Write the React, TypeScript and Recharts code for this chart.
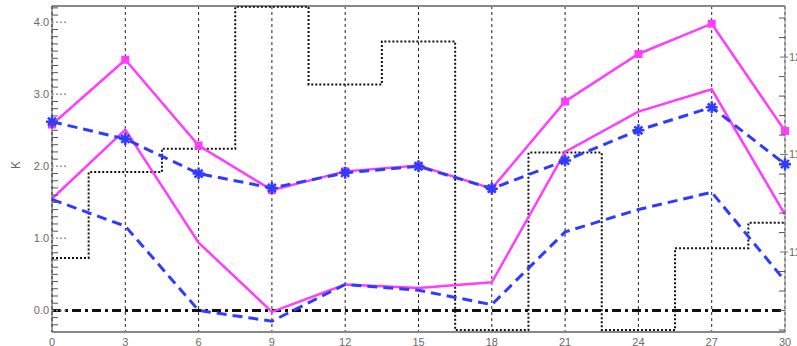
import React from 'react';
import { LineChart, Line, XAxis, YAxis, CartesianGrid, ReferenceLine } from 'recharts';

const xValues = [0, 3, 6, 9, 12, 15, 18, 21, 24, 27, 30];
const magentaUpper = [2.58, 3.48, 2.29, 1.67, 1.93, 2.01, 1.69, 2.9, 3.56, 3.98, 2.49];
const blueUpper = [2.62, 2.38, 1.9, 1.7, 1.91, 2.0, 1.69, 2.08, 2.5, 2.82, 2.03];
const magentaLower = [1.55, 2.51, 0.94, -0.02, 0.36, 0.31, 0.39, 2.2, 2.76, 3.07, 1.33];
const blueLower = [1.54, 1.17, 0.0, -0.15, 0.36, 0.28, 0.08, 1.09, 1.4, 1.64, 0.41];
const stepValues = [10.97, 11.41, 11.53, 12.258, 11.86, 12.08, 10.6, 11.51, 10.6, 11.02, 11.15];

const xTicks = [0, 3, 6, 9, 12, 15, 18, 21, 24, 27, 30];
const leftDomain = [-0.3, 4.226];
const rightDomain = [10.59, 12.262];
const leftMajor = [0, 1, 2, 3, 4];
const rightMajor = [11.0, 11.5, 12.0];
const leftTicks = Array.from({ length: 45 }, (_, i) => (i - 2) / 10);
const rightTicks = Array.from({ length: 17 }, (_, i) => (106 + i) / 10);

const data = xValues.map((x, i) => ({
  x,
  mu: magentaUpper[i],
  bu: blueUpper[i],
  ml: magentaLower[i],
  bl: blueLower[i],
  st: stepValues[i],
}));

const MAGENTA = '#ff3cff';
const BLUE = '#2f3cff';
const LABEL = '#6a6a6a';

const isMajor = (v: number, majors: number[]) => majors.some((m) => Math.abs(m - v) < 1e-6);

const LeftTick = (props: any) => {
  const { x, y, payload } = props;
  const v = payload.value;
  const ax = x + 3;
  if (isMajor(v, leftMajor)) {
    return (
      <g>
        <line x1={ax} x2={ax + 14} y1={y} y2={y} stroke="#999" strokeWidth={1.5} strokeDasharray="2 2" />
        <text x={x} y={y} dy="0.35em" textAnchor="end" fill={LABEL} fontSize={11}>
          {v.toFixed(1)}
        </text>
      </g>
    );
  }
  return <line x1={ax} x2={ax + 6} y1={y} y2={y} stroke="#555" strokeWidth={1} />;
};

const RightTick = (props: any) => {
  const { x, y, payload } = props;
  const v = payload.value;
  const ax = x - 4;
  if (isMajor(v, rightMajor)) {
    return (
      <g>
        <line x1={ax - 5} x2={ax + 3} y1={y} y2={y} stroke="#777" strokeWidth={1} />
        <text x={x} y={y} dy="0.35em" textAnchor="start" fill={LABEL} fontSize={11}>
          {v.toFixed(1)}
        </text>
      </g>
    );
  }
  return <line x1={ax - 6} x2={ax} y1={y} y2={y} stroke="#555" strokeWidth={1} />;
};

const SquareDot = (props: any) => {
  const { cx, cy } = props;
  if (cx == null || cy == null) return null;
  return <rect x={cx - 4} y={cy - 4} width={8} height={8} fill={MAGENTA} />;
};

const StarDot = (props: any) => {
  const { cx, cy } = props;
  if (cx == null || cy == null) return null;
  const r = 6;
  return (
    <g stroke={BLUE} strokeWidth={2.5}>
      <line x1={cx - r} x2={cx + r} y1={cy} y2={cy} />
      <line x1={cx} x2={cx} y1={cy - r} y2={cy + r} />
      <line x1={cx - 4} x2={cx + 4} y1={cy - 4} y2={cy + 4} />
      <line x1={cx - 4} x2={cx + 4} y1={cy + 4} y2={cy - 4} />
    </g>
  );
};

export default function App() {
  return (
    <div style={{ position: 'absolute', left: 0, top: 0, fontFamily: 'Liberation Sans, Arial, sans-serif' }}>
      <LineChart width={830} height={360} data={data} margin={{ top: 6, right: 0, bottom: 0, left: 0 }}>
        <CartesianGrid vertical horizontal={false} stroke="#222" strokeDasharray="3 3" />
        <XAxis
          dataKey="x"
          type="number"
          domain={[0, 30]}
          ticks={xTicks}
          height={28}
          tickSize={0}
          tickMargin={6}
          tick={{ fill: LABEL, fontSize: 11 }}
          axisLine={{ stroke: '#888', strokeWidth: 2 }}
        />
        <YAxis
          yAxisId="left"
          orientation="left"
          width={52}
          type="number"
          domain={leftDomain}
          allowDataOverflow
          ticks={leftTicks}
          interval={0}
          tickSize={0}
          tickMargin={3}
          tick={<LeftTick />}
          axisLine={{ stroke: '#444' }}
          label={{ value: 'K', angle: -90, position: 'insideLeft', offset: 16, fill: LABEL, fontSize: 12 }}
        />
        <YAxis
          yAxisId="right"
          orientation="right"
          width={45}
          type="number"
          domain={rightDomain}
          allowDataOverflow
          ticks={rightTicks}
          interval={0}
          tickSize={0}
          tickMargin={4}
          tick={<RightTick />}
          axisLine={{ stroke: '#888' }}
        />
        <ReferenceLine yAxisId="left" y={leftDomain[1]} stroke="#888" strokeWidth={2} />
        <Line
          yAxisId="right"
          dataKey="st"
          type="step"
          stroke="#111"
          strokeWidth={2}
          strokeDasharray="2 2"
          dot={false}
          isAnimationActive={false}
        />
        <ReferenceLine yAxisId="left" y={0} stroke="#111" strokeWidth={3} strokeDasharray="9 4 3 4" />
        <Line yAxisId="left" dataKey="ml" type="linear" stroke={MAGENTA} strokeWidth={2.5} dot={false} isAnimationActive={false} />
        <Line yAxisId="left" dataKey="mu" type="linear" stroke={MAGENTA} strokeWidth={2.5} dot={<SquareDot />} isAnimationActive={false} />
        <Line yAxisId="left" dataKey="bl" type="linear" stroke={BLUE} strokeWidth={3} strokeDasharray="10 6" dot={false} isAnimationActive={false} />
        <Line yAxisId="left" dataKey="bu" type="linear" stroke={BLUE} strokeWidth={3} strokeDasharray="10 6" dot={<StarDot />} isAnimationActive={false} />
      </LineChart>
    </div>
  );
}
